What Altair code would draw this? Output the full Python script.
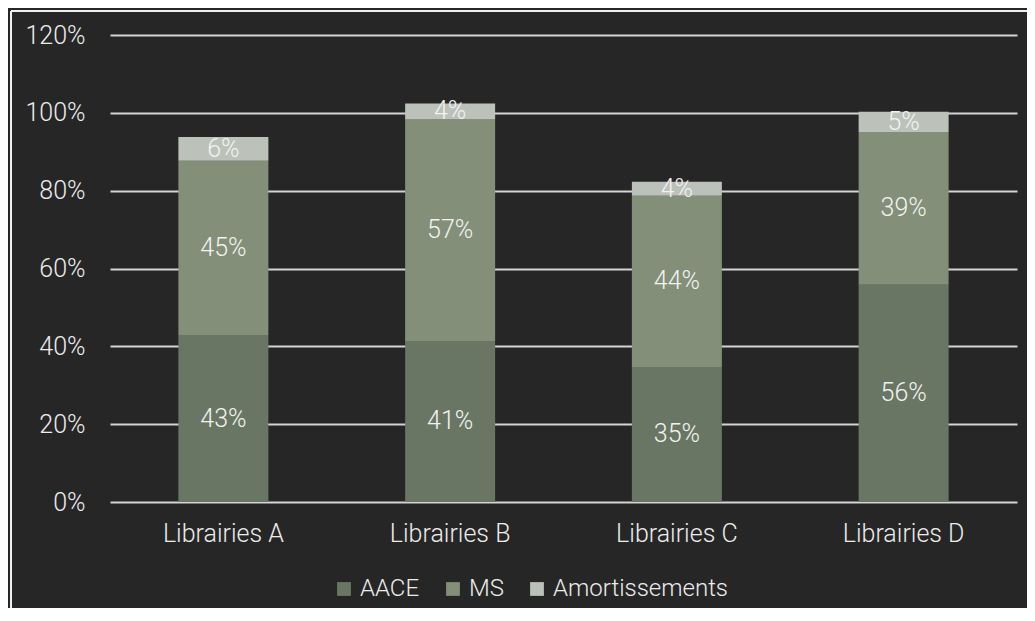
import altair as alt
import pandas as pd

categories = ["Librairies A", "Librairies B", "Librairies C", "Librairies D"]
series_names = ["AACE", "MS", "Amortissements"]
aace = [0.429, 0.414, 0.347, 0.558]
ms = [0.448, 0.569, 0.440, 0.393]
amort = [0.061, 0.041, 0.036, 0.052]
y_ticks = [0, 0.2, 0.4, 0.6, 0.8, 1.0, 1.2]
colors = ["#6a7664", "#838f78", "#bcc1ba"]

rows = []
for i, c in enumerate(categories):
    for k, (name, vals) in enumerate(zip(series_names, [aace, ms, amort])):
        rows.append({"cat": c, "serie": name, "value": vals[i], "ord": k})
df = pd.DataFrame(rows)

FONT = "Roboto"
FS = 25
TXT = "#ececec"
BG = "#262626"

base = alt.Chart(df)

bars = base.mark_bar(size=90).encode(
    x=alt.X("cat:N", sort=categories, title=None,
            scale=alt.Scale(paddingInner=0, paddingOuter=0),
            axis=alt.Axis(labelAngle=0, ticks=False, domain=False, grid=False,
                          labelPadding=19, labelFontSize=FS, labelFont=FONT,
                          labelFontWeight=300, labelColor=TXT)),
    y=alt.Y("value:Q", stack="zero", title=None,
            scale=alt.Scale(domain=[0, 1.2], nice=False),
            axis=alt.Axis(values=y_ticks, format=".0%", ticks=False, domain=False,
                          gridColor="#d4d4d4", gridWidth=1.8, gridOpacity=1,
                          labelPadding=25, labelFontSize=FS, labelFont=FONT,
                          labelFontWeight=300, labelColor=TXT)),
    color=alt.Color("serie:N", scale=alt.Scale(domain=series_names, range=colors),
                    legend=alt.Legend(title=None)),
    order=alt.Order("ord:Q"),
)

labels = base.transform_stack(
    stack="value", groupby=["cat"], as_=["v0", "v1"],
    sort=[alt.SortField("ord", order="ascending")]
).transform_calculate(
    mid="(datum.v0 + datum.v1) / 2"
).mark_text(fontSize=FS, font=FONT, fontWeight=300, color="#f2f2f2",
            align="center", baseline="middle").encode(
    x=alt.X("cat:N", sort=categories),
    y=alt.Y("mid:Q"),
    text=alt.Text("value:Q", format=".0%"),
)

frame = pd.DataFrame({"k": [0]})
border_v = alt.Chart(frame).mark_rule(color="#f0f0f0", strokeWidth=2).encode(
    x=alt.value(-99), y=alt.value(-24), y2=alt.value(900))
border_h = alt.Chart(frame).mark_rule(color="#f0f0f0", strokeWidth=2).encode(
    x=alt.value(-99), x2=alt.value(2000), y=alt.value(-24))

chart = alt.layer(bars, labels, border_v, border_h).properties(
    width=907, height=467,
    autosize=alt.AutoSizeParams(type="none"),
    padding={"left": 102, "top": 27, "right": 10, "bottom": 106},
    background=BG,
).configure_view(stroke=None).configure_legend(
    orient="none", legendX=222, legendY=542, direction="horizontal",
    symbolType="square", symbolSize=190, symbolStrokeWidth=0,
    labelFontSize=24, labelFont=FONT, labelFontWeight=300, labelColor=TXT,
    labelOffset=4, columnPadding=21, labelLimit=0,
)

chart.save("out.html", embed_options={"renderer": "svg", "actions": False})
